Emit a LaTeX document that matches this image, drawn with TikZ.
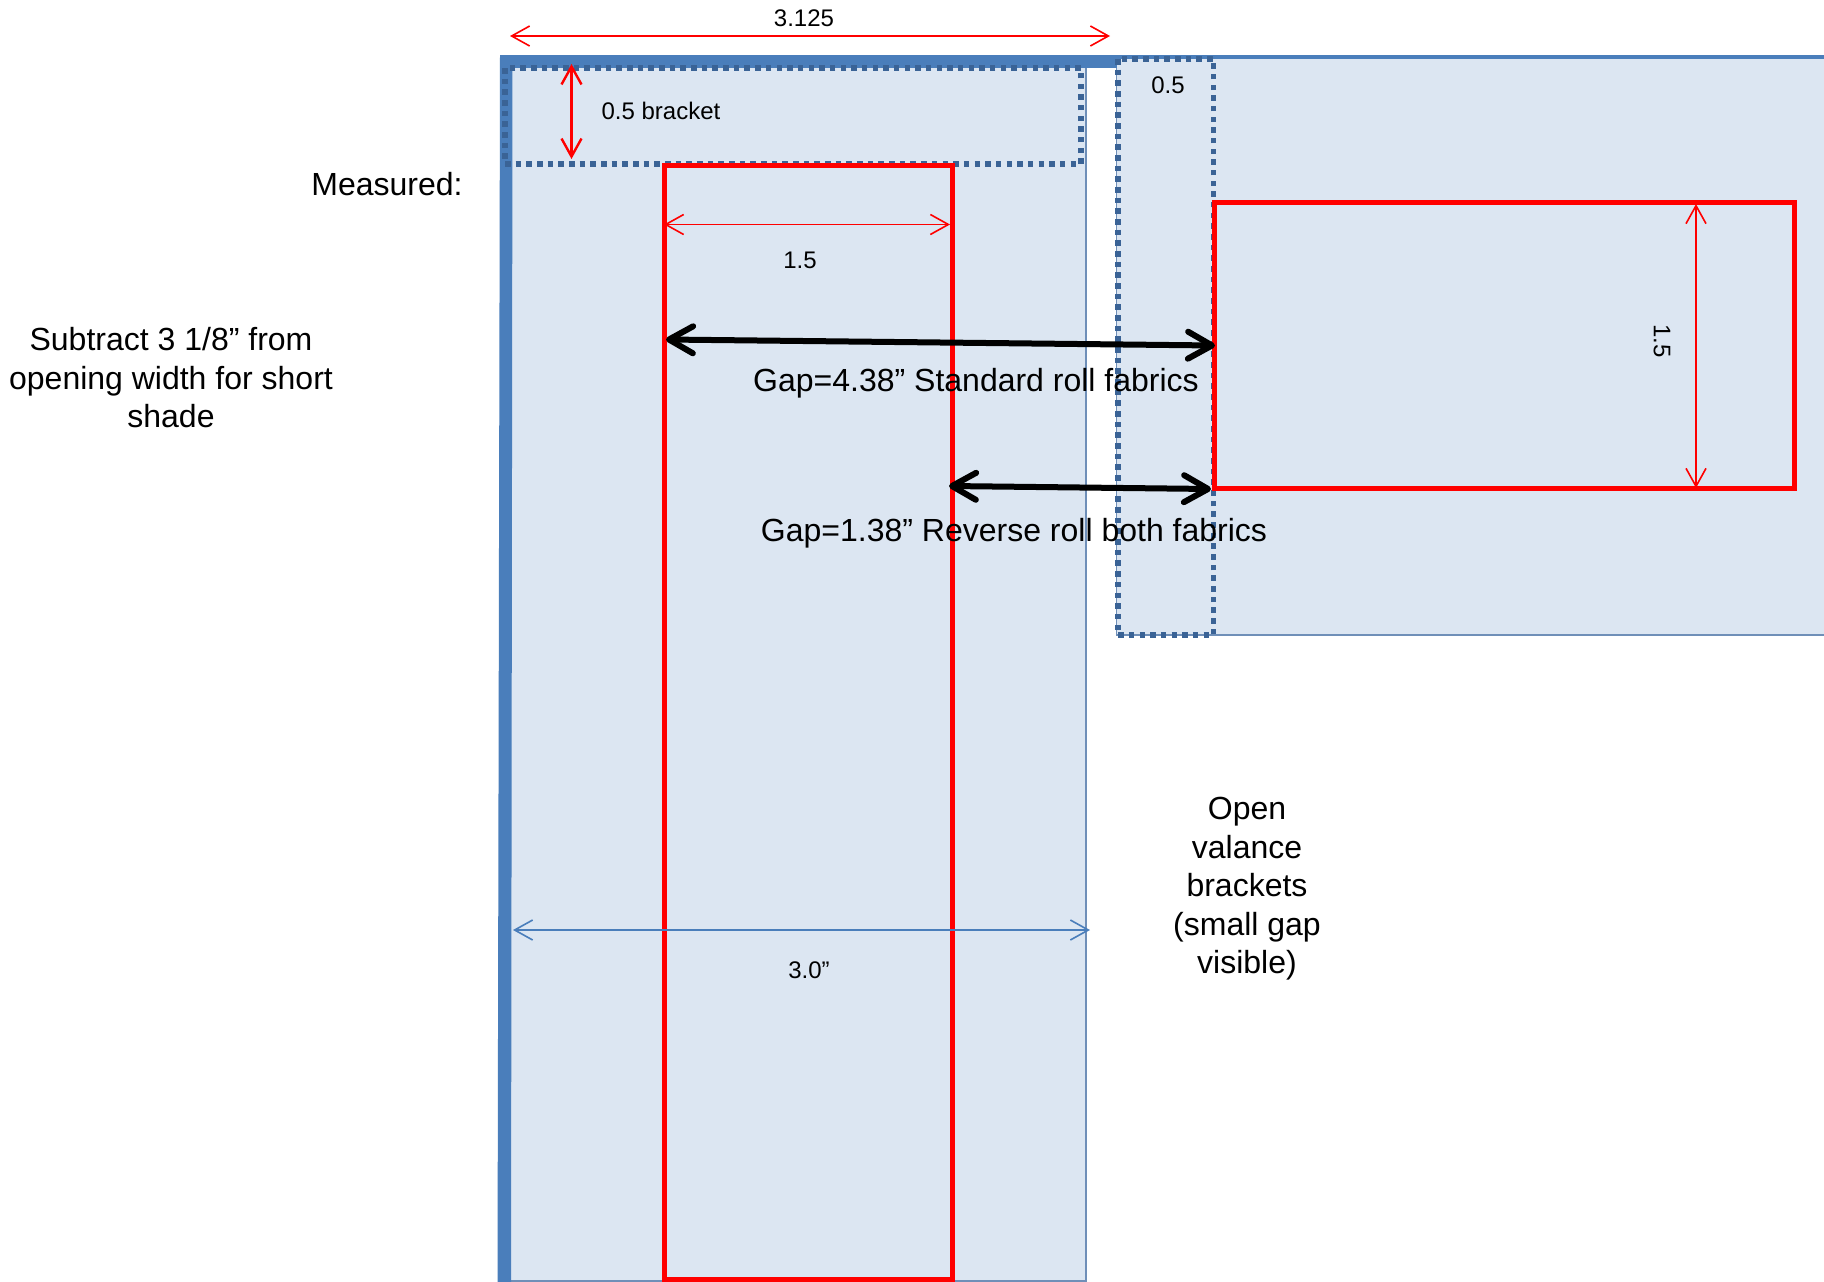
\documentclass[tikz,border=0pt]{standalone}
\usepackage{fontspec}
\setmainfont{Liberation Sans}
\usetikzlibrary{arrows.meta}
\definecolor{panel}{HTML}{DCE6F2}
\definecolor{edge}{HTML}{6F8FB8}
\definecolor{wall}{HTML}{4A7EBB}
\definecolor{dots}{HTML}{3A6396}
\tikzset{
  panelbox/.style={fill=panel,draw=edge,line width=1.4pt},
  wallline/.style={draw=wall,line cap=butt},
  dotbox/.style={draw=dots,line width=5.5pt,dash pattern=on 5.5pt off 5.17pt},
  redbox/.style={draw=red,line width=5pt,miter limit=10},
  dimred/.style={draw=red,line width=1.6pt,{Straight Barb[length=18pt,width=20pt,line width=1.6pt]}-{Straight Barb[length=18pt,width=20pt,line width=1.6pt]}},
  dimredb/.style={draw=red,line width=2.4pt,{Straight Barb[length=18pt,width=20pt,line width=2.4pt]}-{Straight Barb[length=18pt,width=20pt,line width=2.4pt]}},
  dimblue/.style={draw=wall,line width=1.6pt,{Straight Barb[length=18pt,width=20pt,line width=1.6pt]}-{Straight Barb[length=18pt,width=20pt,line width=1.6pt]}},
  dimblack/.style={draw=black,line width=6pt,{Straight Barb[length=24pt,width=27pt,line width=6pt,round]}-{Straight Barb[length=24pt,width=27pt,line width=6pt,round]}},
  big/.style={font=\fontsize{32}{38.5}\selectfont,align=center,inner sep=0pt,text=black},
  small/.style={font=\fontsize{24}{29}\selectfont,align=center,inner sep=0pt,text=black},
}
\begin{document}
\begin{tikzpicture}[x=1pt,y=-1pt]
\useasboundingbox (0,0) rectangle (1824,1282);
% panels
\path[panelbox] (506,62) rectangle (1086,1281);
\path[panelbox] (1116.5,58) rectangle (1830,635);
% walls
\draw[wallline,line width=3.5pt] (1110,57) -- (1824,57);
\draw[wallline,line width=13pt] (500,61.5) -- (1117,61.5);
\fill[wall] (500,55) -- (512.5,55) -- (511,1282) -- (497.5,1282) -- cycle;
% dotted brackets
\draw[dotbox] (505,68) rectangle (1081,164);
\draw[dotbox] (1118,59) rectangle (1213.5,635);
% red rectangles
\draw[redbox] (664,165.5) rectangle (952,1279.5);
\draw[redbox] (1214,202) rectangle (1794.5,488.5);
% connector ends
\coordinate (wa) at (510,36);   \coordinate (wb) at (1110,36);
\coordinate (ba) at (571.5,64);   \coordinate (bb) at (571.5,159);
\coordinate (sa) at (664,224.5);  \coordinate (sb) at (950,224.5);
\coordinate (ra) at (1696,204); \coordinate (rb) at (1696,488);
\coordinate (ga) at (666,339.5);  \coordinate (gb) at (1215,345.5);
\coordinate (ha) at (949,486);  \coordinate (hb) at (1211,489);
\coordinate (ta) at (513,930);  \coordinate (tb) at (1090,930);
\draw[dimred] (wa) -- (wb);
\draw[dimredb] (ba) -- (bb);
\draw[dimred] (sa) -- (sb);
\draw[dimred] (ra) -- (rb);
\draw[dimblue] (ta) -- (tb);
\draw[dimblack] (ga) -- (gb);
\draw[dimblack] (ha) -- (hb);
% labels
\node[small] (l1) at (804,18) {3.125};
\node[small] (l2) at (661,111) {0.5 bracket};
\node[small] (l3) at (1168,85) {0.5};
\node[small] (l4) at (800,260) {1.5};
\node[small,rotate=-90] (l5) at (1662,341) {1.5};
\node[small] (l6) at (809,970) {3.0”};
\node[big] (m1) at (387,184) {Measured:};
\node[big] (m2) at (171,378) {Subtract 3 1/8” from\\opening width for short\\shade};
\node[big] (m3) at (976,383) {Gap=4.38” Standard roll fabrics};
\node[big] (m4) at (1014,533) {Gap=1.38” Reverse roll both fabrics};
\node[big] (m5) at (1247,889) {Open\\valance\\brackets\\(small gap\\visible)};
\end{tikzpicture}
\end{document}
